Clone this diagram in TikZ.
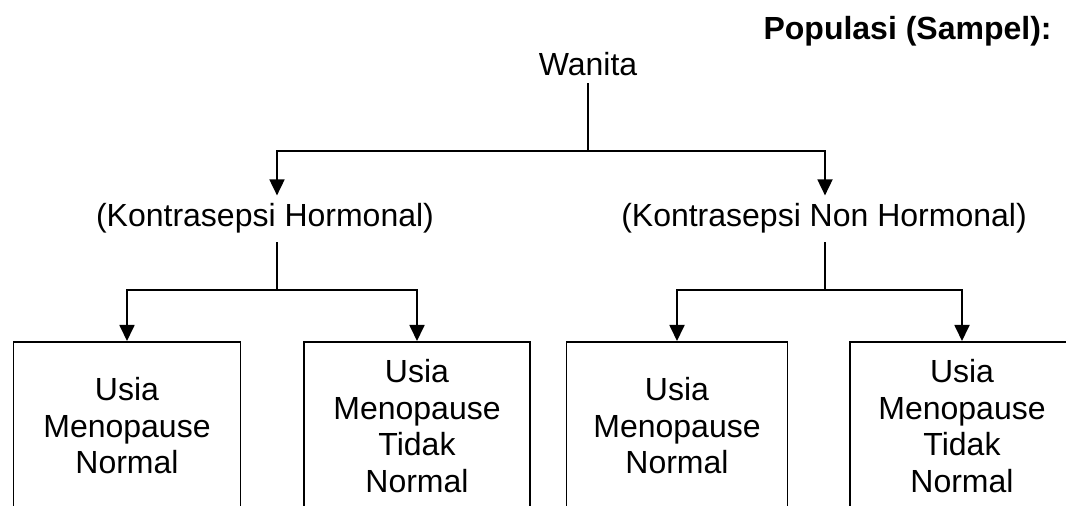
\documentclass[tikz,border=0pt]{standalone}
\usepackage{fontspec}
\setmainfont{Liberation Sans}
\usetikzlibrary{arrows.meta}

\begin{document}
\begin{tikzpicture}[
  x=0.5pt, y=-0.5pt,
  txt/.style={font=\fontsize{16pt}{18.3pt}\selectfont},
  lbl/.style={txt, inner sep=4pt, anchor=base},
  box/.style={txt, rectangle, draw, line width=0.9pt, align=center, anchor=north, minimum height=84pt, inner sep=0pt},
  arrow/.style={-{Triangle[width=7.5pt,length=8pt]}, line width=0.9pt},
  conn/.style={line width=0.9pt},
]
\useasboundingbox (0,0) rectangle (1066,506);
\clip (0,0) rectangle (1066,506);

\node[txt, anchor=base east, inner sep=0pt, font=\fontsize{16pt}{18.3pt}\selectfont\bfseries] (pop) at (1052,40) {Populasi (Sampel):};
\node[txt, anchor=base] (wanita) at (588,76) {Wanita};
\node[lbl] (hor) at (265,227) {(Kontrasepsi Hormonal)};
\node[lbl] (nonhor) at (824,227) {(Kontrasepsi Non Hormonal)};

\node[box, minimum width=113.5pt] (b1) at (127,341) {Usia\\Menopause\\Normal};
\node[box, minimum width=113pt] (b2) at (417,341) {Usia\\Menopause\\Tidak\\Normal};
\node[box, minimum width=110.5pt] (b3) at (677,341) {Usia\\Menopause\\Normal};
\node[box, minimum width=112pt] (b4) at (962,341) {Usia\\Menopause\\Tidak\\Normal};

% Connections
\coordinate (j0) at (588,151);
\coordinate (j1) at (277,290);
\coordinate (j2) at (825,290);

\draw[conn] (wanita.south) -- (j0);
\draw[arrow] (j0) -| (j1 |- hor.north);
\draw[arrow] (j0) -| (j2 |- nonhor.north);

\draw[conn] (j1 |- hor.south) -- (j1);
\draw[conn] (j2 |- nonhor.south) -- (j2);
\draw[arrow] (j1) -| (b1.north);
\draw[arrow] (j1) -| (b2.north);
\draw[arrow] (j2) -| (b3.north);
\draw[arrow] (j2) -| (b4.north);

\end{tikzpicture}
\end{document}
